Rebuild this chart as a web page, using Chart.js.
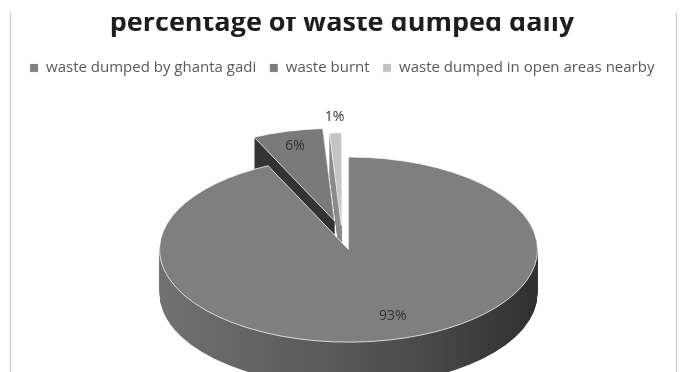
<!DOCTYPE html>
<html>
<head>
<meta charset="utf-8">
<title>percentage of waste dumped daily</title>
<script src="https://cdn.jsdelivr.net/npm/chart.js@4.4.1/dist/chart.umd.min.js"></script>
<style>
  html, body { margin: 0; padding: 0; background: #fff; }
  body { width: 681px; height: 372px; position: relative; overflow: hidden; }
  /* the frame clips the top of the title, like the cropped sheet it came from */
  .frame { position: absolute; left: 0; top: 17px; width: 681px; height: 355px; overflow: hidden; }
  .inner { position: absolute; left: 0; top: -10px; width: 681px; height: 400px; }
  .edge { position: absolute; top: 13px; bottom: 0; width: 1px; background: #c6c6c6; }
</style>
</head>
<body>
<div class="frame"><div class="inner"><canvas id="wasteChart"></canvas></div></div>
<div class="edge" style="left:10px"></div>
<div class="edge" style="left:676px"></div>
<script>
// --- data ---
const categories = ['waste dumped by ghanta gadi', 'waste burnt', 'waste dumped in open areas nearby'];
const shares = [93, 6, 1];

// --- look of the 3d disc ---
const TOP_COLORS = ['#7f7f7f', '#7a7a7a', '#c4c4c4'];
const SIDE_COLORS = [null, '#343434', '#8c8c8c'];   // null -> shaded rim
const EXPLODE = [30, 30, 20];                        // slice pull-out, unsquashed px
const LABEL_R = [0.75, 0.84, 1.17];                  // label distance, share of radius
const LABEL_TURN = [-0.08, 0, 0];                    // nudge label off the mid angle (rad)
const SQUASH = 0.49;                                 // vertical tilt of the disc
const DEPTH = 44;                                    // disc thickness on screen

Chart.defaults.font.family = "'Open Sans', sans-serif";

function midAngle(a) { return (a.startAngle + a.endAngle) / 2; }

function rimGradient(ctx, r) {
    const g = ctx.createLinearGradient(-r, 0, r, 0);
    g.addColorStop(0, '#727272');
    g.addColorStop(0.45, '#5a5a5a');
    g.addColorStop(0.75, '#474747');
    g.addColorStop(1, '#313131');
    return g;
}

// draws the pie as a tilted disc: rim first, then the slice tops through ArcElement.draw
const pie3d = {
    id: 'pie3d',
    beforeDatasetDraw(chart, args) {
        const ctx = chart.ctx;
        const arcs = args.meta.data;
        if (!arcs.length) return;
        const cx = arcs[0].x, cy = arcs[0].y;
        const order = arcs.map((a, i) => i)
            .sort((i, j) => Math.sin(midAngle(arcs[i])) - Math.sin(midAngle(arcs[j])));

        order.forEach(function (i) {
            const a = arcs[i];
            const m = midAngle(a);
            const dx = Math.cos(m) * EXPLODE[i], dy = Math.sin(m) * EXPLODE[i];

            // rim: stack the slice shape downwards
            const fill = SIDE_COLORS[i] || rimGradient(ctx, a.outerRadius);
            for (let t = DEPTH; t > 0; t--) {
                ctx.save();
                ctx.translate(cx, cy + t);
                ctx.scale(1, SQUASH);
                ctx.fillStyle = fill;
                ctx.beginPath();
                ctx.moveTo(dx, dy);
                ctx.arc(dx, dy, a.outerRadius, a.startAngle, a.endAngle);
                ctx.closePath();
                ctx.fill();
                ctx.restore();
            }

            // top face
            ctx.save();
            ctx.translate(cx, cy);
            ctx.scale(1, SQUASH);
            ctx.translate(dx - cx, dy - cy);
            a.draw(ctx);
            ctx.restore();
        });
        return false;
    },
    afterDatasetsDraw(chart) {
        const ctx = chart.ctx;
        const arcs = chart.getDatasetMeta(0).data;
        if (!arcs.length) return;
        const cx = arcs[0].x, cy = arcs[0].y;
        ctx.save();
        ctx.font = "14px 'Open Sans', sans-serif";
        ctx.fillStyle = '#333333';
        ctx.textAlign = 'center';
        ctx.textBaseline = 'middle';
        arcs.forEach(function (a, i) {
            const m = midAngle(a);
            const lm = m + LABEL_TURN[i];
            const r = a.outerRadius * LABEL_R[i] + EXPLODE[i];
            const x = cx + Math.cos(lm) * r;
            const y = cy + Math.sin(lm) * r * SQUASH;
            ctx.fillText(shares[i] + '%', x, y);
        });
        ctx.restore();
    }
};

new Chart(document.getElementById('wasteChart'), {
    type: 'pie',
    data: {
        labels: categories,
        datasets: [{
            data: shares,
            backgroundColor: TOP_COLORS,
            borderColor: '#ffffff',
            borderWidth: 1
        }]
    },
    options: {
        responsive: true,
        maintainAspectRatio: false,
        animation: false,
        events: [],
        radius: 189,
        layout: { padding: { left: 3, right: 0, top: 0, bottom: 22 } },
        plugins: {
            title: {
                display: true,
                text: 'percentage of waste dumped daily',
                color: '#1e1e1e',
                font: { size: 27, weight: 'bold' },
                padding: { top: 0, bottom: 8 }
            },
            legend: {
                position: 'top',
                labels: {
                    color: '#595959',
                    font: { size: 15 },
                    boxWidth: 9,
                    boxHeight: 9,
                    padding: 13
                }
            },
            tooltip: { enabled: false }
        }
    },
    plugins: [pie3d]
});
</script>
</body>
</html>
